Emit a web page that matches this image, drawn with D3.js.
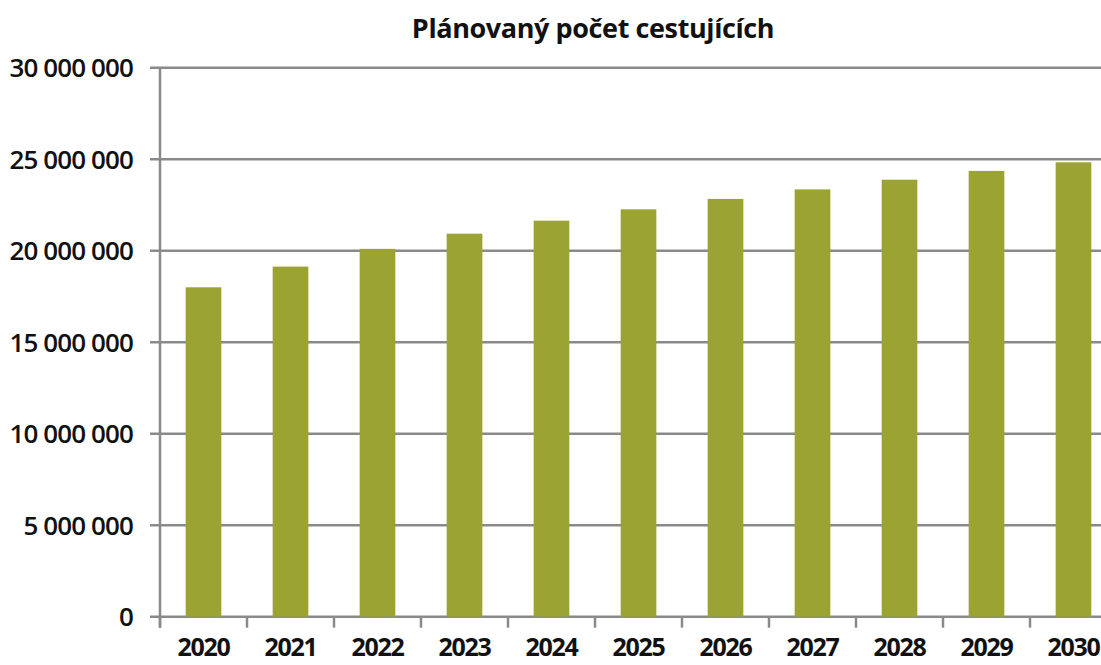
<!DOCTYPE html>
<html>
<head>
<meta charset="utf-8">
<script src="https://cdn.jsdelivr.net/npm/d3@7"></script>
<style>
  html, body { margin: 0; padding: 0; background: #fff; }
  svg { display: block; }
</style>
</head>
<body>
<svg id="chart"></svg>
<script>
// Data
const years = ['2020', '2021', '2022', '2023', '2024', '2025', '2026', '2027', '2028', '2029', '2030'];
const passengers = [18000000, 19130000, 20100000, 20930000, 21640000, 22260000, 22830000, 23350000, 23880000, 24360000, 24830000];
const yTicks = [0, 5000000, 10000000, 15000000, 20000000, 25000000, 30000000];
const title = 'Plánovaný počet cestujících';

const width = 1101;
const height = 665;

const svg = d3.select('#chart')
    .attr('width', width)
    .attr('height', height);

// plot area, the right side runs off the picture like in the original
const plot = { left: 160, right: 1117, top: 67.7, bottom: 616.7 };

const x = d3.scaleBand()
    .domain(years)
    .range([plot.left, plot.right])
    .paddingInner(0.59)
    .paddingOuter(0.295);

const y = d3.scaleLinear()
    .domain([0, 30000000])
    .range([plot.bottom, plot.top]);

const fmt = v => d3.format(',')(v).replace(/,/g, ' ');
const gray = '#8a8a8a';
const font = '"Open Sans", sans-serif';

// horizontal gridlines (with the little tick sticking out left)
svg.append('g')
    .selectAll('line')
    .data(yTicks)
    .join('line')
    .attr('x1', plot.left - 10)
    .attr('x2', plot.right)
    .attr('y1', d => y(d))
    .attr('y2', d => y(d))
    .attr('stroke', gray)
    .attr('stroke-width', 2.5);

// y labels
svg.append('g')
    .selectAll('text')
    .data(yTicks)
    .join('text')
    .attr('x', 133)
    .attr('y', d => y(d))
    .attr('dy', '0.36em')
    .attr('text-anchor', 'end')
    .attr('font-family', font)
    .attr('font-weight', 600)
    .attr('font-size', 26)
    .attr('letter-spacing', -0.9)
    .attr('fill', '#111')
    .text(fmt);

// bars
svg.append('g')
    .selectAll('rect')
    .data(passengers)
    .join('rect')
    .attr('x', (d, i) => x(years[i]))
    .attr('width', x.bandwidth())
    .attr('y', d => y(d))
    .attr('height', d => y(0) - y(d))
    .attr('fill', '#9ba332');

// y axis line
svg.append('line')
    .attr('x1', plot.left).attr('x2', plot.left)
    .attr('y1', plot.top).attr('y2', plot.bottom + 11)
    .attr('stroke', gray)
    .attr('stroke-width', 2.5);

// x axis tick marks at the category boundaries
const step = x.step();
svg.append('g')
    .selectAll('line')
    .data(d3.range(years.length + 1))
    .join('line')
    .attr('x1', i => plot.left + i * step)
    .attr('x2', i => plot.left + i * step)
    .attr('y1', plot.bottom)
    .attr('y2', plot.bottom + 11)
    .attr('stroke', gray)
    .attr('stroke-width', 2.5);

// x labels
svg.append('g')
    .selectAll('text')
    .data(years)
    .join('text')
    .attr('x', d => x(d) + x.bandwidth() / 2)
    .attr('y', 656)
    .attr('text-anchor', 'middle')
    .attr('font-family', font)
    .attr('font-weight', 700)
    .attr('font-size', 25)
    .attr('letter-spacing', -1.3)
    .attr('fill', '#111')
    .text(d => d);

// title
svg.append('text')
    .attr('x', 593)
    .attr('y', 38)
    .attr('text-anchor', 'middle')
    .attr('font-family', font)
    .attr('font-weight', 700)
    .attr('font-size', 27)
    .attr('letter-spacing', -0.4)
    .attr('fill', '#111')
    .text(title);
</script>
</body>
</html>
